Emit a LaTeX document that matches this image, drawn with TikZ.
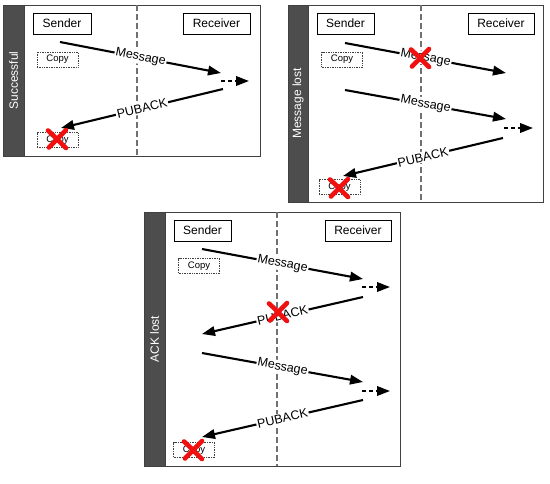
\documentclass[tikz,border=0pt]{standalone}
\usepackage{fontspec}
\setmainfont{Liberation Sans}
\usetikzlibrary{arrows.meta}
\definecolor{bargrey}{HTML}{4D4D4D}
\definecolor{framegrey}{HTML}{404040}
\definecolor{midgrey}{HTML}{707070}
\definecolor{xred}{HTML}{F01010}
\tikzset{
  frame/.style={draw=framegrey, line width=1pt, fill=white},
  bar/.style={fill=bargrey, draw=framegrey, line width=1pt},
  barlabel/.style={text=white, rotate=90, font=\fontsize{12}{14}\selectfont},
  mid/.style={draw=midgrey, line width=1.3pt, dash pattern=on 6pt off 3pt},
  rolebox/.style={draw=black, line width=0.8pt, fill=white, minimum height=21pt, inner sep=2pt, font=\fontsize{12}{14}\selectfont},
  copybox/.style={draw=black!75, line width=0.7pt, densely dotted, minimum width=41pt, minimum height=15pt, inner sep=1pt, font=\fontsize{9.5}{11}\selectfont},
  msg/.style={draw=black, line width=2.1pt, -{Triangle[length=13pt,width=9.5pt]}},
  fwd/.style={draw=black, line width=2.1pt, dash pattern=on 4pt off 3pt, -{Triangle[length=13pt,width=9.5pt]}},
  lbl/.style={midway, sloped, fill=white, inner sep=1pt, font=\fontsize{12.5}{14}\selectfont},
  crossline/.style={draw=xred, line width=4.6pt, line cap=round},
  redcross/.pic={\draw[crossline] (-9,-8.5) .. controls (-2,-2) .. (9,9);
                 \draw[crossline] (9,-9) .. controls (1,-1) .. (-8,8.5);}
}
\begin{document}
\begin{tikzpicture}[x=1pt,y=-1pt]
\useasboundingbox (0,0) rectangle (550,483);
% ---------- Panel 1: Successful ----------
\draw[frame] (3,5) rectangle (260,156);
\draw[bar] (3,5) rectangle (24,156);
\node[barlabel] (l1) at (13.5,80.5) {Successful};
\draw[mid] (137,5) -- (137,156);
\node[rolebox, minimum width=58pt] (s1) at (62,23.5) {Sender};
\node[rolebox, minimum width=67pt] (r1) at (216.5,23.5) {Receiver};
\node[copybox] (c1a) at (57.5,59.5) {Copy};
\node[copybox] (c1b) at (57.5,140) {Copy};
\coordinate (m1s) at (60,42); \coordinate (m1e) at (221,73);
\coordinate (d1s) at (221,81); \coordinate (d1e) at (249,81);
\coordinate (p1s) at (223,89); \coordinate (p1e) at (61,128);
\draw[msg] (m1s) -- (m1e) node[lbl] {Message};
\draw[fwd] (d1s) -- (d1e);
\draw[msg] (p1s) -- (p1e) node[lbl] {PUBACK};
\pic at (57,139) {redcross};
% ---------- Panel 2: Message lost ----------
\draw[frame] (288,5) rectangle (543,202);
\draw[bar] (288,5) rectangle (308,202);
\node[barlabel] (l2) at (298,103.5) {Message lost};
\draw[mid] (421,5) -- (421,202);
\node[rolebox, minimum width=57pt] (s2) at (345.5,23.5) {Sender};
\node[rolebox, minimum width=66pt] (r2) at (501,23.5) {Receiver};
\node[copybox] (c2a) at (342,59.5) {Copy};
\node[copybox] (c2b) at (339.5,187) {Copy};
\coordinate (m2s) at (345,43); \coordinate (m2e) at (506,73);
\coordinate (n2s) at (345,90); \coordinate (n2e) at (506,119);
\coordinate (d2s) at (504,128); \coordinate (d2e) at (533,128);
\coordinate (p2s) at (503,138); \coordinate (p2e) at (343,176);
\draw[msg] (m2s) -- (m2e) node[lbl] {Message};
\draw[msg] (n2s) -- (n2e) node[lbl] {Message};
\draw[fwd] (d2s) -- (d2e);
\draw[msg] (p2s) -- (p2e) node[lbl] {PUBACK};
\pic at (420,58) {redcross};
\pic at (339,188) {redcross};
% ---------- Panel 3: ACK lost ----------
\draw[frame] (144,212) rectangle (400,466);
\draw[bar] (144,212) rectangle (165,466);
\node[barlabel] (l3) at (154.5,339) {ACK lost};
\draw[mid] (277,212) -- (277,466);
\node[rolebox, minimum width=57pt] (s3) at (202.5,230.5) {Sender};
\node[rolebox, minimum width=66pt] (r3) at (358,230.5) {Receiver};
\node[copybox] (c3a) at (199,266) {Copy};
\node[copybox] (c3b) at (194,450) {Copy};
\coordinate (m3s) at (202,249); \coordinate (m3e) at (363,279);
\coordinate (d3s) at (362,287); \coordinate (d3e) at (390,287);
\coordinate (p3s) at (363,297); \coordinate (p3e) at (202,334);
\coordinate (n3s) at (202,353); \coordinate (n3e) at (363,382);
\coordinate (e3s) at (362,391); \coordinate (e3e) at (390,391);
\coordinate (q3s) at (363,400); \coordinate (q3e) at (202,437);
\draw[msg] (m3s) -- (m3e) node[lbl] {Message};
\draw[fwd] (d3s) -- (d3e);
\draw[msg] (p3s) -- (p3e) node[lbl] {PUBACK};
\draw[msg] (n3s) -- (n3e) node[lbl] {Message};
\draw[fwd] (e3s) -- (e3e);
\draw[msg] (q3s) -- (q3e) node[lbl] {PUBACK};
\pic at (278,312) {redcross};
\pic at (193,450) {redcross};
\end{tikzpicture}
\end{document}
